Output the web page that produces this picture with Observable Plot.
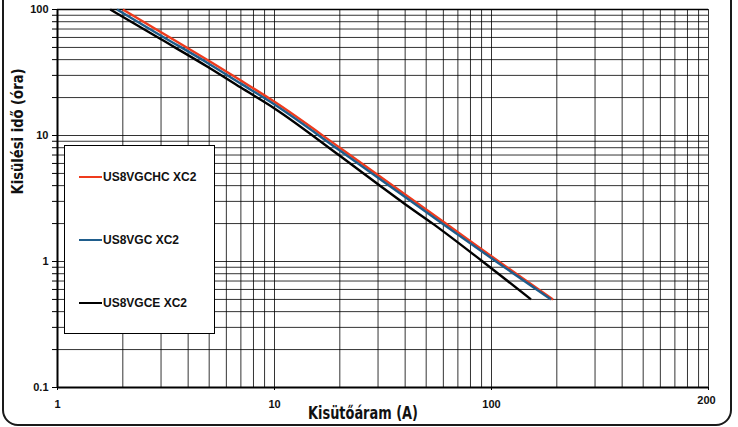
<!DOCTYPE html>
<html>
<head>
<meta charset="utf-8">
<script src="https://cdn.jsdelivr.net/npm/d3@7"></script>
<script src="https://cdn.jsdelivr.net/npm/@observablehq/plot@0.6"></script>
<style>
  html, body { margin: 0; padding: 0; background: #fff; overflow: hidden; }
  #wrap { position: relative; width: 738px; height: 427px; overflow: hidden; font-family: "Liberation Sans", Arial, sans-serif; }
  #border { position: absolute; left: 2px; top: -30px; width: 730px; height: 456px; box-sizing: border-box;
            border: 2.5px solid #1a1a1a; border-radius: 16px; pointer-events: none; }
  #legend { position: absolute; left: 64px; top: 145px; width: 151px; height: 189px; box-sizing: border-box;
            background: #fff; border: 1px solid #000; }
  .item { position: absolute; left: 14px; height: 14px; display: flex; align-items: center; }
  .sw { width: 23px; height: 0; border-top: 2.5px solid; margin-right: 1px; }
  .lab { font-size: 12px; font-weight: bold; color: #111; white-space: nowrap; }
  #chart svg { display: block; }
</style>
</head>
<body>
<div id="wrap">
  <div id="chart"></div>
  <div id="legend"></div>
  <div id="border"></div>
</div>
<script>
// ---- data ----
const seriesNames = ["US8VGCHC XC2", "US8VGC XC2", "US8VGCE XC2"];
const seriesColors = ["#ef3b1d", "#1f5d8c", "#000000"];

const redX   = [2.0, 3, 5, 7, 10, 20, 40, 60, 108, 192];
const redY   = [100, 66, 39, 27.3, 18.5, 8.0, 3.4, 2.07, 1, 0.5];
const blueX  = [1.88, 3, 5, 7, 10, 20, 40, 58, 105, 188];
const blueY  = [100, 62, 37, 25.8, 17.6, 7.6, 3.25, 2.06, 1, 0.5];
const blackX = [1.75, 3, 5, 7, 10, 20, 30, 40, 54, 91, 152];
const blackY = [100, 58, 34.5, 24, 16.4, 6.9, 4.1, 2.85, 1.98, 1, 0.5];

const xTicks = [1, 10, 100, 1000];
const xTickLabels = ["1", "10", "100", "200"];
const yTicks = [0.1, 1, 10, 100];
const yTickLabels = ["0.1", "1", "10", "100"];

const xTitle = "Kisütőáram (A)";
const yTitle = "Kisülési idő (óra)";

// grid values: every integer step of each decade
const mult = [1, 2, 3, 4, 5, 6, 7, 8, 9];
const xGrid = [1, 10, 100].flatMap(d => mult.map(m => m * d)).concat([1000]);
const yGrid = [0.1, 1, 10].flatMap(d => mult.map(m => +(m * d).toPrecision(3))).concat([100]);

const seriesX = [redX, blueX, blackX];
const seriesY = [redY, blueY, blackY];
const rows = seriesNames.flatMap((name, i) =>
  seriesX[i].map((x, j) => ({ series: name, x, y: seriesY[i][j] })));

const narrow = "'Liberation Sans Narrow', 'DejaVu Sans Condensed', 'Arial Narrow', sans-serif";

const chart = Plot.plot({
  width: 738,
  height: 427,
  marginLeft: 57,
  marginRight: 30,
  marginTop: 9,
  marginBottom: 40,
  style: { fontFamily: "'Liberation Sans', Arial, sans-serif", background: "transparent", overflow: "visible" },
  x: { type: "log", domain: [1, 1000], axis: null },
  y: { type: "log", domain: [0.1, 100], axis: null },
  marks: [
    Plot.ruleX(xGrid, { stroke: "#000", strokeWidth: 1, strokeOpacity: 0.8 }),
    Plot.ruleY(yGrid, { stroke: "#000", strokeWidth: 1, strokeOpacity: 0.8 }),
    Plot.axisY({ ticks: yGrid, tickSize: 5, tickFormat: () => "", label: null, stroke: "#000" }),
    Plot.axisX({ ticks: xTicks, tickSize: 3, tickFormat: () => "", label: null, stroke: "#000" }),
    Plot.ruleX([1], { stroke: "#000", strokeWidth: 2 }),
    Plot.ruleY([0.1], { stroke: "#000", strokeWidth: 2 }),
    Plot.ruleY([100], { stroke: "#000", strokeWidth: 1.3 }),
    ...seriesNames.map((name, i) =>
      Plot.line(rows.filter(r => r.series === name), {
        x: "x", y: "y", stroke: seriesColors[i], strokeWidth: 2.4, strokeLinecap: "butt",
        curve: "monotone-x"
      })),
    Plot.text(yTicks, {
      x: 1, y: d => d, text: (d, i) => yTickLabels[i], dx: -9, textAnchor: "end",
      fontSize: 11, fontWeight: "bold", fill: "#111"
    }),
    Plot.text(xTicks.slice(0, 3), {
      x: d => d, y: 0.1, text: (d, i) => xTickLabels[i], dy: 17,
      fontSize: 11, fontWeight: "bold", fill: "#111"
    }),
    Plot.text(xTicks.slice(3), {
      x: d => d, y: 0.1, text: (d, i) => xTickLabels[3 + i], dy: 13, dx: -2,
      fontSize: 11, fontWeight: "bold", fill: "#111"
    }),
    Plot.text([xTitle], {
      frameAnchor: "bottom", text: d => d, dx: -20, dy: 31,
      fontSize: 18, fontWeight: "bold", fontFamily: narrow, fill: "#111"
    }),
    Plot.text([yTitle], {
      frameAnchor: "left", text: d => d, rotate: -90, dx: -39, dy: -4,
      fontSize: 15, fontWeight: "bold", fontFamily: narrow, fill: "#111"
    })
  ]
});
document.getElementById("chart").appendChild(chart);

// condense the two axis titles to the reference widths (text stays text)
const titleWidths = { [xTitle]: 110, [yTitle]: 126 };
chart.querySelectorAll("text").forEach(t => {
  const w = titleWidths[t.textContent];
  if (w) {
    t.setAttribute("textLength", w);
    t.setAttribute("lengthAdjust", "spacingAndGlyphs");
  }
});

// legend (HTML overlay)
const legend = document.getElementById("legend");
const tops = [24, 87, 150];
seriesNames.forEach((name, i) => {
  const it = document.createElement("div");
  it.className = "item";
  it.style.top = tops[i] + "px";
  const sw = document.createElement("div");
  sw.className = "sw";
  sw.style.borderTopColor = seriesColors[i];
  const lab = document.createElement("span");
  lab.className = "lab";
  lab.textContent = name;
  it.appendChild(sw);
  it.appendChild(lab);
  legend.appendChild(it);
});
</script>
</body>
</html>
